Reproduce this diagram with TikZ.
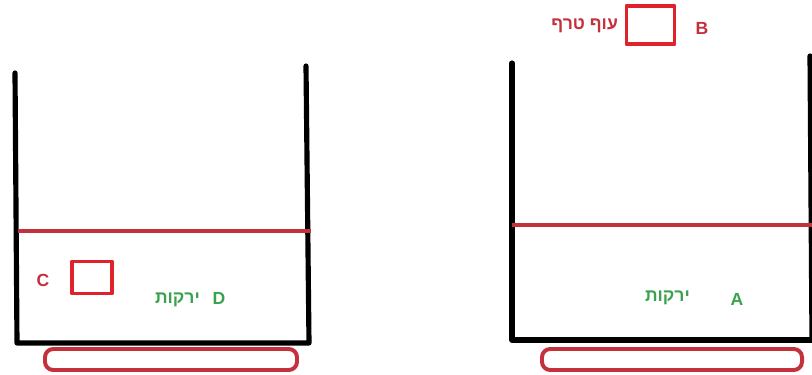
\documentclass[tikz,border=0pt]{standalone}
\usepackage{fontspec}
\setmainfont{Liberation Sans}
\newfontfamily\hebfont[Script=Hebrew]{Liberation Sans}
\TeXXeTstate=1
\usepackage{xcolor}
\usepackage{tikz}
\definecolor{wall}{HTML}{000000}
\definecolor{lvl}{HTML}{C4303C}
\definecolor{boxred}{HTML}{E0232B}
\definecolor{veg}{HTML}{3AA24E}
\tikzset{
  wallline/.style={wall, line width=4.4pt, line cap=round},
  levelline/.style={lvl, line width=2.6pt},
  plate/.style={lvl, line width=3.4pt, rounded corners=7pt},
  item/.style={draw=boxred, line width=3pt, inner sep=0pt},
  redlbl/.style={lvl, font=\bfseries\fontsize{15}{17}\selectfont},
  greenlbl/.style={veg, font=\bfseries\fontsize{15}{17}\selectfont}
}

\begin{document}
\begin{tikzpicture}[x=0.03cm, y=-0.03cm, line join=round]
  \useasboundingbox (0,0) rectangle (812,375);
  % left container
  \coordinate (L1) at (15,73);
  \coordinate (L2) at (17,343);
  \coordinate (L3) at (306,66);
  \coordinate (L4) at (309,343);
  \draw[wallline] (L1) -- (L2) -- (L4) -- (L3);
  \draw[levelline] (18,231) -- (311,231);
  \draw[plate] (45,349) rectangle (297,370);
  \node[item, minimum width=1.2cm, minimum height=0.96cm] (boxC) at (92,277.5) {};
  \node[redlbl] (labC) at (43,280) {C};
  \node[greenlbl] (labD) at (219,298) {D};
  \node[greenlbl, anchor=east] (vegD) at (204,300) {\hebfont\bfseries\beginR ירקות\endR};
  % right container
  \coordinate (R1) at (512,63);
  \coordinate (R2) at (512,340);
  \coordinate (R3) at (810,56);
  \coordinate (R4) at (812,340);
  \draw[wallline] (R1) -- (R2) -- (R4);
  \draw[wallline] (R3) -- (R4);
  \draw[levelline] (512,225) -- (812,225);
  \draw[plate] (542,349) rectangle (802,370);
  \node[item, minimum width=1.45cm, minimum height=1.15cm] (boxB) at (650.5,25) {};
  \node[redlbl, anchor=east] (labBird) at (622,26) {\hebfont\bfseries\beginR עוף טרף\endR};
  \node[redlbl] (labB) at (702,28) {B};
  \node[greenlbl] (labA) at (737,299) {A};
  \node[greenlbl, anchor=east] (vegA) at (694,298) {\hebfont\bfseries\beginR ירקות\endR};
\end{tikzpicture}
\end{document}
